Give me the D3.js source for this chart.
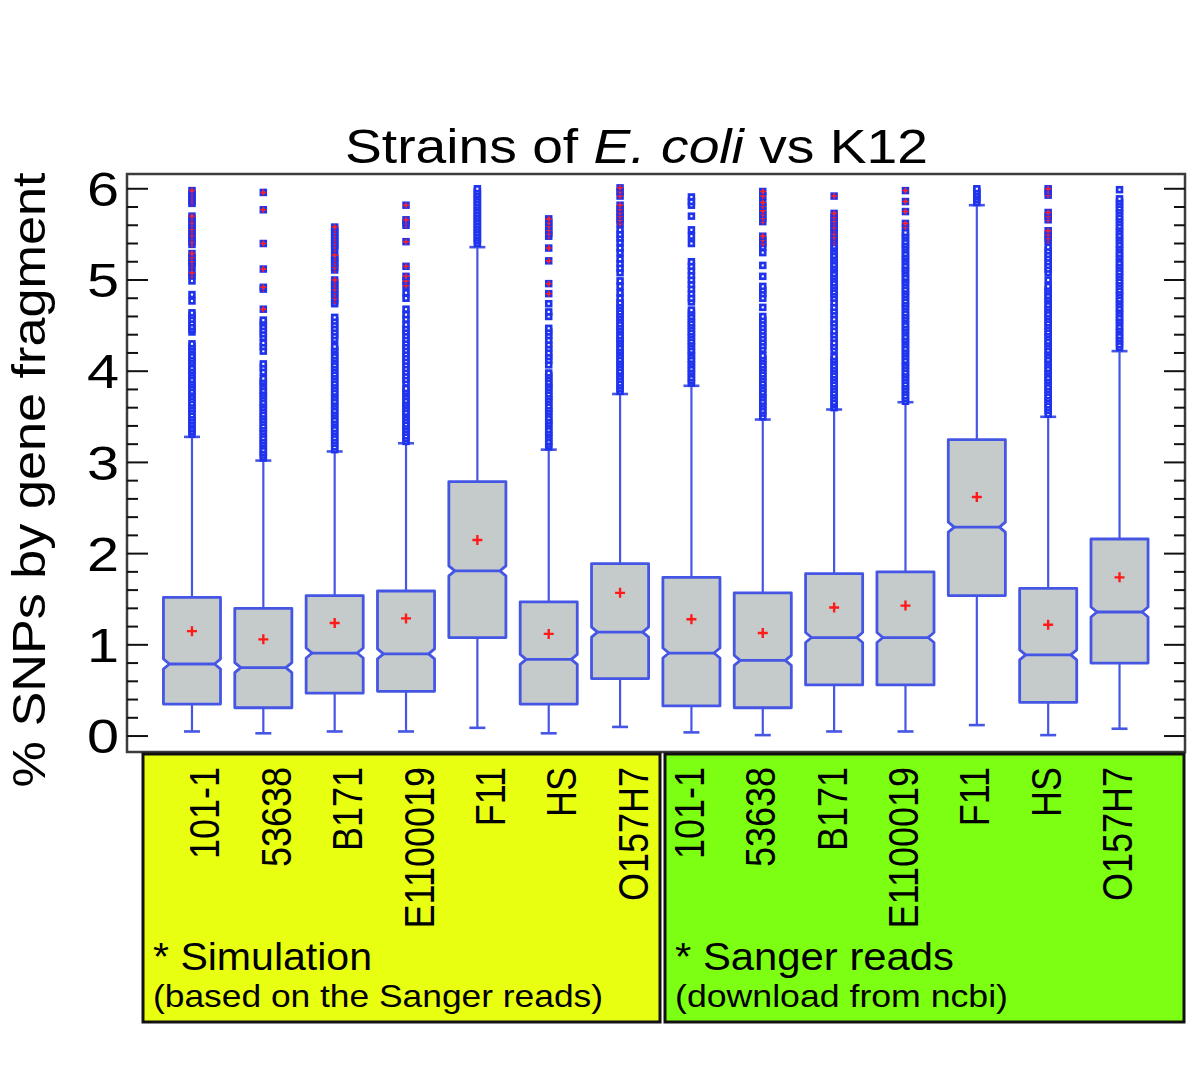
<!DOCTYPE html>
<html><head><meta charset="utf-8">
<script src="https://cdn.jsdelivr.net/npm/d3@7"></script>
<style>
body{margin:0;background:#fff}
text{font-family:"Liberation Sans",Arial,Helvetica,sans-serif}
</style>
</head><body>
<svg id="chart" width="1200" height="1068"></svg>
<script>
// ---------------- DATA ----------------
const strains = ["101-1","53638","B171","E1100019","F11","HS","O157H7"];
const groups = ["Simulation","Sanger reads"];
const groupNotes = ["(based on the Sanger reads)","(download from ncbi)"];
const yTicks = [0,1,2,3,4,5,6];

// order: 7 simulation boxes then 7 Sanger boxes
const whiskerLow  = [0.05,0.03,0.05,0.05,0.09,0.03,0.10, 0.04,0.01,0.05,0.05,0.12,0.01,0.08];
const q1          = [0.35,0.31,0.47,0.49,1.08,0.35,0.63, 0.33,0.31,0.56,0.56,1.54,0.37,0.80];
const median      = [0.79,0.75,0.91,0.90,1.81,0.84,1.14, 0.91,0.83,1.08,1.08,2.29,0.89,1.36];
const q3          = [1.52,1.40,1.54,1.59,2.79,1.47,1.89, 1.74,1.57,1.78,1.80,3.25,1.62,2.16];
const meanVal     = [1.15,1.06,1.24,1.29,2.15,1.12,1.57, 1.28,1.13,1.41,1.43,2.62,1.22,1.74];
const whiskerHigh = [3.28,3.02,3.12,3.21,5.36,3.14,3.75, 3.84,3.47,3.58,3.66,5.82,3.50,4.22];

// extreme outliers (marked with a red cross)
const extremes = [
  [5.98,5.95,5.92,5.89,5.86,5.84,5.70,5.67,5.63,5.60,5.56,5.53,5.49,5.46,5.42,5.39,5.29,5.25,5.21,5.18,5.15,5.08,5.05],
  [5.96,5.77,5.40,5.12,4.92,4.90,4.68],
  [5.58,5.55,5.52,5.49,5.46,5.43,5.40,5.37,5.34,5.27,5.24,5.21,5.18,5.14,5.11,5.00,4.97,4.94,4.90,4.87,4.84,4.80,4.77],
  [5.82,5.66,5.63,5.60,5.42,5.15,5.04,4.99,4.94],
  [],
  [5.67,5.63,5.59,5.55,5.51,5.48,5.35,5.21,4.96,4.85],
  [6.01,5.97,5.92,5.82,5.78,5.74,5.70,5.66,5.62],
  [],
  [5.97,5.92,5.85,5.81,5.76,5.72,5.68,5.64,5.48,5.44,5.40],
  [5.92,5.73,5.69,5.65,5.62,5.58,5.55,5.51,5.47,5.44,5.41],
  [5.98,5.86,5.75,5.62,5.58],
  [],
  [6.00,5.97,5.93,5.74,5.70,5.66,5.54,5.50,5.46,5.43],
  []
];
// ordinary outliers
const outliers = [
  [4.99,4.84,4.77,4.64,4.61,4.57,4.53,4.49,4.46,4.43,4.30,4.27,4.24,4.21,4.17,4.14,4.11,4.08,4.04,4.01,3.98,3.95,3.91,3.88,3.85,3.82,3.78,3.75,3.72,3.69,3.65,3.62,3.59,3.56,3.52,3.49,3.46,3.43,3.40,3.37,3.34,3.31],
  [4.56,4.53,4.49,4.45,4.41,4.37,4.31,4.27,4.22,4.08,4.04,3.99,3.92,3.89,3.86,3.83,3.79,3.76,3.73,3.70,3.66,3.63,3.60,3.57,3.53,3.50,3.47,3.44,3.40,3.37,3.34,3.31,3.27,3.24,3.21,3.18,3.14,3.11,3.08,3.05],
  [4.74,4.59,4.55,4.51,4.47,4.43,4.39,4.35,4.27,4.24,4.21,4.17,4.14,4.11,4.07,4.04,4.01,3.97,3.94,3.91,3.87,3.84,3.81,3.77,3.74,3.71,3.67,3.64,3.61,3.57,3.54,3.51,3.47,3.44,3.41,3.37,3.34,3.31,3.27,3.24,3.21,3.17,3.14],
  [4.86,4.80,4.68,4.62,4.57,4.51,4.47,4.43,4.39,4.35,4.31,4.27,4.23,4.19,4.15,4.11,4.07,4.03,3.99,3.95,3.91,3.87,3.81,3.78,3.75,3.72,3.68,3.65,3.62,3.59,3.55,3.52,3.49,3.46,3.42,3.39,3.36,3.33,3.29,3.26,3.23],
  [6.00,5.97,5.94,5.91,5.88,5.85,5.82,5.79,5.76,5.73,5.70,5.67,5.64,5.61,5.58,5.55,5.52,5.49,5.46,5.43,5.40],
  [4.74,4.65,4.60,4.47,4.43,4.39,4.34,4.29,4.25,4.20,4.16,4.12,4.07,3.98,3.95,3.92,3.88,3.85,3.82,3.79,3.75,3.72,3.69,3.66,3.62,3.59,3.56,3.53,3.49,3.46,3.43,3.40,3.36,3.33,3.30,3.27,3.23,3.20,3.17],
  [5.55,5.50,5.46,5.41,5.35,5.30,5.23,5.18,5.13,5.08,4.99,4.93,4.86,4.80,4.75,4.72,4.69,4.65,4.62,4.59,4.56,4.52,4.49,4.46,4.43,4.39,4.36,4.33,4.30,4.26,4.23,4.20,4.17,4.13,4.10,4.07,4.04,4.00,3.97,3.94,3.91,3.87,3.84,3.81,3.78],
  [5.91,5.86,5.82,5.70,5.55,5.48,5.40,5.20,5.15,5.10,5.05,5.00,4.95,4.90,4.85,4.80,4.76,4.67,4.64,4.60,4.57,4.53,4.50,4.47,4.43,4.40,4.37,4.33,4.30,4.27,4.23,4.20,4.17,4.13,4.10,4.07,4.03,4.00,3.97,3.93,3.90,3.87],
  [5.36,5.30,5.16,5.04,4.93,4.89,4.85,4.80,4.70,4.60,4.56,4.52,4.48,4.44,4.40,4.36,4.32,4.28,4.24,4.17,4.14,4.11,4.07,4.04,4.01,3.97,3.94,3.91,3.87,3.84,3.81,3.77,3.74,3.71,3.67,3.64,3.61,3.57,3.54,3.50],
  [5.37,5.34,5.31,5.27,5.24,5.21,5.17,5.14,5.11,5.07,5.04,5.01,4.97,4.94,4.91,4.87,4.84,4.80,4.75,4.70,4.66,4.62,4.57,4.53,4.49,4.44,4.40,4.36,4.31,4.27,4.23,4.16,4.13,4.10,4.06,4.03,4.00,3.96,3.93,3.90,3.86,3.83,3.80,3.76,3.73,3.70,3.66,3.63,3.60],
  [5.52,5.49,5.46,5.42,5.39,5.36,5.33,5.29,5.26,5.23,5.20,5.16,5.13,5.10,5.07,5.03,5.00,4.97,4.94,4.90,4.87,4.84,4.81,4.77,4.74,4.71,4.68,4.64,4.61,4.58,4.55,4.51,4.48,4.45,4.42,4.38,4.35,4.32,4.29,4.25,4.22,4.19,4.16,4.12,4.09,4.06,4.03,3.99,3.96,3.93,3.90,3.86,3.83,3.80,3.77,3.73,3.70,3.67],
  [6.00,5.97,5.94,5.91,5.88,5.85],
  [5.36,5.32,5.28,5.24,5.20,5.16,5.12,5.08,5.00,4.93,4.90,4.87,4.83,4.80,4.77,4.73,4.70,4.67,4.63,4.60,4.57,4.53,4.50,4.47,4.43,4.40,4.37,4.33,4.30,4.27,4.23,4.20,4.17,4.13,4.10,4.07,4.03,4.00,3.97,3.93,3.90,3.87,3.83,3.80,3.77,3.73,3.70,3.67,3.63,3.60,3.57,3.53],
  [5.99,5.89,5.86,5.83,5.79,5.76,5.73,5.69,5.66,5.63,5.59,5.56,5.53,5.49,5.46,5.43,5.39,5.36,5.33,5.29,5.26,5.23,5.19,5.16,5.13,5.09,5.06,5.03,4.99,4.96,4.93,4.89,4.86,4.83,4.79,4.76,4.73,4.69,4.66,4.63,4.59,4.56,4.53,4.49,4.46,4.43,4.39,4.36,4.33,4.29,4.26]
];

// ---------------- LAYOUT ----------------
const svg = d3.select("#chart");
const W = 1200, H = 1068;
const frame = {left:127, right:1185, top:174, bottom:752};
const BLUE = "#1f32ee", BOXBLUE = "#4656e4", FILL = "#c5cbcb", RED = "#ff1a1a";

svg.append("rect").attr("width",W).attr("height",H).attr("fill","#fff");

const cats = groups.flatMap(g => strains.map(s => g + "|" + s));
const x = d3.scaleBand().domain(cats).range([156.3, 1155.2]).paddingInner(0.2).paddingOuter(0.1);
const y = d3.scaleLinear().domain([-0.175, 6.162]).range([frame.bottom, frame.top]);

const boxes = cats.map((c,i) => ({
  id:c, lo:whiskerLow[i], q1:q1[i], med:median[i], q3:q3[i], mean:meanVal[i], hi:whiskerHigh[i],
  ext:extremes[i], out:outliers[i]
}));

// title
const title = svg.append("text").attr("x",345).attr("y",163).attr("text-anchor","start")
  .attr("font-size",49).attr("fill","#000")
  .attr("textLength",583).attr("lengthAdjust","spacingAndGlyphs");
title.append("tspan").text("Strains of ");
title.append("tspan").attr("font-style","italic").text("E. coli");
title.append("tspan").text(" vs K12");

// y axis title
svg.append("text").attr("transform","translate(45,480) rotate(-90)").attr("text-anchor","middle")
  .attr("font-size",46).attr("fill","#000")
  .attr("textLength",615).attr("lengthAdjust","spacingAndGlyphs")
  .text("% SNPs by gene fragment");

// frame
svg.append("rect").attr("x",frame.left).attr("y",frame.top)
  .attr("width",frame.right-frame.left).attr("height",frame.bottom-frame.top)
  .attr("fill","none").attr("stroke","#3c3c3c").attr("stroke-width",2.5);

// ticks
const minor = d3.range(0, 6.01, 0.2).map(v => +v.toFixed(2)).filter(v => !yTicks.includes(v));
const tickG = svg.append("g").attr("stroke","#111").attr("stroke-width",2);
yTicks.forEach(v => {
  tickG.append("line").attr("x1",frame.left).attr("x2",frame.left+21).attr("y1",y(v)).attr("y2",y(v));
  tickG.append("line").attr("x1",frame.right).attr("x2",frame.right-21).attr("y1",y(v)).attr("y2",y(v));
});
minor.forEach(v => {
  tickG.append("line").attr("x1",frame.left).attr("x2",frame.left+11).attr("y1",y(v)).attr("y2",y(v));
  tickG.append("line").attr("x1",frame.right).attr("x2",frame.right-11).attr("y1",y(v)).attr("y2",y(v));
});
svg.append("g").selectAll("text").data(yTicks).join("text")
  .attr("transform",d => `translate(119,${y(d)}) scale(1.2,1)`)
  .attr("dy","0.36em").attr("text-anchor","end")
  .attr("font-size",48).attr("fill","#000").text(d => d);

// boxes
const bw = x.bandwidth();
const notchH = 5, notchD = 6, capW = 16;
const g = svg.append("g");
boxes.forEach(b => {
  const cx = x(b.id) + bw/2, L = x(b.id), R = x(b.id) + bw;
  // whiskers
  g.append("line").attr("x1",cx).attr("x2",cx).attr("y1",y(b.lo)).attr("y2",y(b.q1))
    .attr("stroke",BOXBLUE).attr("stroke-width",2.2);
  g.append("line").attr("x1",cx).attr("x2",cx).attr("y1",y(b.q3)).attr("y2",y(b.hi))
    .attr("stroke",BOXBLUE).attr("stroke-width",2.2);
  [b.lo,b.hi].forEach(v => g.append("line").attr("x1",cx-capW/2).attr("x2",cx+capW/2)
    .attr("y1",y(v)).attr("y2",y(v)).attr("stroke",BOXBLUE).attr("stroke-width",2.6));
  // notched box
  const ym = y(b.med);
  const pts = [[L,y(b.q3)],[R,y(b.q3)],[R,ym-notchH],[R-notchD,ym],[R,ym+notchH],[R,y(b.q1)],
               [L,y(b.q1)],[L,ym+notchH],[L+notchD,ym],[L,ym-notchH]];
  g.append("path").attr("d","M"+pts.map(p=>p.join(",")).join("L")+"Z")
    .attr("fill",FILL).attr("stroke",BOXBLUE).attr("stroke-width",2.8).attr("stroke-linejoin","round");
  g.append("line").attr("x1",L+notchD).attr("x2",R-notchD).attr("y1",ym).attr("y2",ym)
    .attr("stroke",BOXBLUE).attr("stroke-width",2.8);
  // mean marker
  const my = y(b.mean);
  g.append("path").attr("d",`M${cx-5},${my}H${cx+5}M${cx},${my-5}V${my+5}`)
    .attr("stroke",RED).attr("stroke-width",2.4);
  // outliers (drawn from low to high)
  const all = b.out.map(v => ({v, ext:false})).concat(b.ext.map(v => ({v, ext:true})))
    .sort((a,c) => a.v - c.v);
  all.forEach(o => {
    const oy = y(o.v);
    g.append("rect").attr("x",cx-2.4).attr("y",oy-2.4).attr("width",4.8).attr("height",4.8)
      .attr("fill","#fff").attr("stroke",BLUE).attr("stroke-width",2.7);
    if (o.ext) g.append("path").attr("d",`M${cx-3},${oy}H${cx+3}M${cx},${oy-3}V${oy+3}`)
      .attr("stroke",RED).attr("stroke-width",1.5);
  });
});

// bottom panels
const panels = [
  {x0:143, x1:660, fill:"#e8ff12", off:27.5, titleLen:219, noteLen:450},
  {x0:665, x1:1184, fill:"#7cff12", off:12.5, titleLen:279, noteLen:333}
];
const panelTop = 754, panelBottom = 1022;
panels.forEach((p,gi) => {
  svg.append("rect").attr("x",p.x0).attr("y",panelTop).attr("width",p.x1-p.x0).attr("height",panelBottom-panelTop)
    .attr("fill",p.fill).attr("stroke","#111").attr("stroke-width",3);
  strains.forEach(s => {
    const cx = x(groups[gi] + "|" + s) + bw/2 + p.off;
    svg.append("text").attr("transform",`translate(${cx},767) scale(1.2,1) rotate(-90)`).attr("text-anchor","end")
      .attr("font-size",36).attr("fill","#000").text(s);
  });
  svg.append("text").attr("x",p.x0+10).attr("y",970).attr("font-size",38).attr("fill","#000")
    .attr("textLength",p.titleLen).attr("lengthAdjust","spacingAndGlyphs")
    .text("* " + groups[gi]);
  svg.append("text").attr("x",p.x0+10).attr("y",1007).attr("font-size",32).attr("fill","#000")
    .attr("textLength",p.noteLen).attr("lengthAdjust","spacingAndGlyphs")
    .text(groupNotes[gi]);
});
</script>
</body></html>
